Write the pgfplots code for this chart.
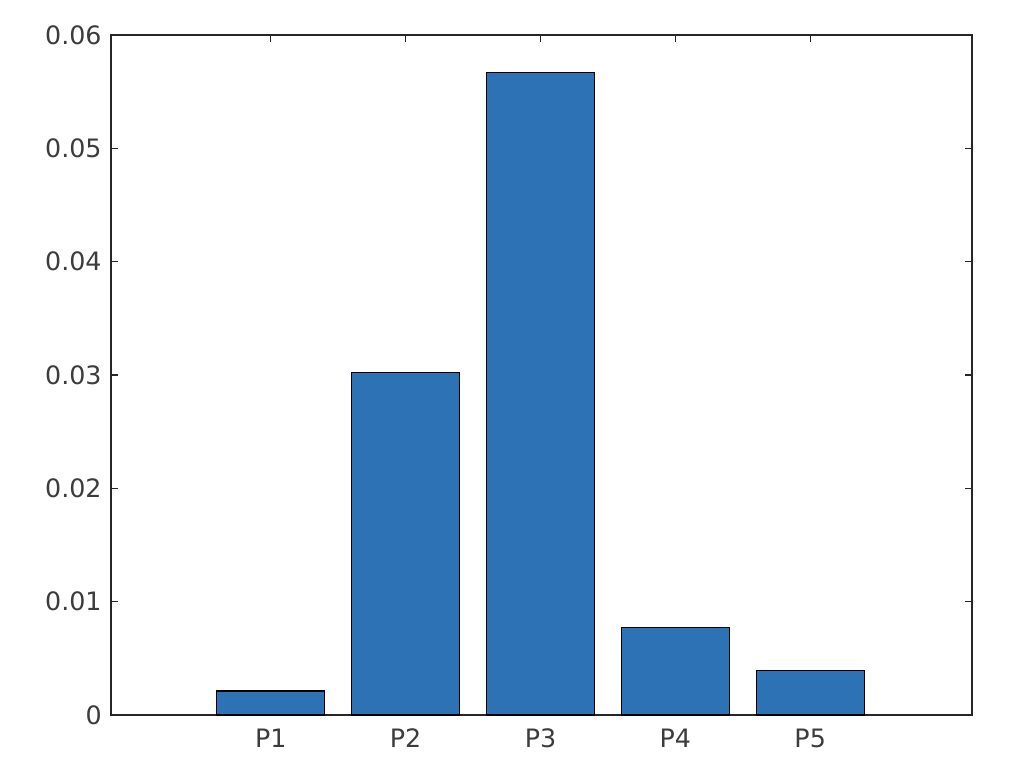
\documentclass[border=0pt]{standalone}
\usepackage{fontspec}
\setmainfont{DejaVu Sans}
\usepackage{pgfplots}
\pgfplotsset{compat=1.18}
\definecolor{barblue}{RGB}{44,114,180}
\definecolor{axgray}{RGB}{38,38,38}
\definecolor{txtgray}{RGB}{60,60,60}
\begin{document}
\begin{tikzpicture}
\begin{axis}[
  scale only axis,
  width=645.75pt, height=510pt,
  xmin=-0.185, xmax=6.2,
  ymin=0, ymax=0.06,
  scaled y ticks=false,
  ytick={0,0.01,0.02,0.03,0.04,0.05,0.06},
  yticklabels={0,0.01,0.02,0.03,0.04,0.05,0.06},
  xtick={1,2,3,4,5},
  xticklabels={P1,P2,P3,P4,P5},
  tick align=inside,
  major tick length=5pt,
  axis line style={axgray, line width=0.8pt},
  every tick/.style={axgray, line width=0.8pt},
  tick label style={font=\fontsize{19}{22}\selectfont, text=txtgray},
  yticklabel style={xshift=-3.5pt},
  xticklabel style={yshift=-7pt},
  clip=false,
]
\addplot[ybar, bar width=0.8, fill=barblue, draw=black, line width=0.8pt] coordinates {
  (1,0.00212) (2,0.0302) (3,0.0567) (4,0.0077) (5,0.0039)
};
\end{axis}
\path ([xshift=-83.25pt,yshift=-51.75pt]current axis.south west) rectangle ([xshift=36pt,yshift=26.25pt]current axis.north east);
\end{tikzpicture}
\end{document}
